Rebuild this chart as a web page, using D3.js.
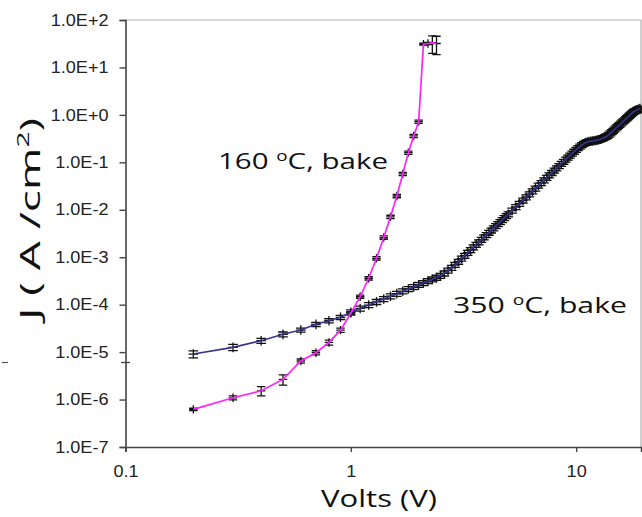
<!DOCTYPE html>
<html><head><meta charset="utf-8">
<script src="https://cdn.jsdelivr.net/npm/d3@7"></script>
<style>body{margin:0;background:#fff}svg{display:block}</style>
</head><body>
<svg id="c" width="642" height="517"></svg>
<script>
// ---- data ----
const xTickValues = [0.1, 1, 10];
const xTickLabels = ["0.1", "1", "10"];
const yTickValues = [1e-7, 1e-6, 1e-5, 1e-4, 1e-3, 1e-2, 1e-1, 1e0, 1e1, 1e2];
const yTickLabels = ["1.0E-7","1.0E-6","1.0E-5","1.0E-4","1.0E-3","1.0E-2","1.0E-1","1.0E+0","1.0E+1","1.0E+2"];

// 160 C bake (magenta)
const v160 = [0.2,0.3,0.4,0.5,0.6,0.7,0.8,0.9,1.0,1.1,1.2,1.3,1.4,1.5,1.6,1.7,1.8,1.9,2.0,2.1,2.2,2.3,2.4];
const j160 = [6.2e-7,1.09e-6,1.53e-6,2.66e-6,6.5e-6,9.7e-6,1.6e-5,2.9e-5,6.6e-5,1.47e-4,3.6e-4,9.5e-4,2.6e-3,7.1e-3,1.95e-2,5.7e-2,0.16,0.36,0.72,31,32,33,32];
const e160 = [0.06,0.1,0.22,0.24,0.1,0.1,0.12,0.1,0.08,0.08,0.08,0.08,0.08,0.08,0.08,0.08,0.08,0.08,0.08,0.05,0.05,0.4,0.42];

// 350 C bake (navy)
const v350 = [0.2,0.3,0.4,0.5,0.6,0.7,0.8,0.9,1.0,1.1,1.2,1.3,1.4,1.5,1.6,1.7,1.8,1.9,2.0,2.1,2.2,2.3,2.4,2.5,2.6,2.7,2.8,2.9,3.0,
  3.1,3.2,3.3,3.4,3.5,3.6,3.7,3.8,3.9,4.0,4.1,4.2,4.3,4.4,4.5,4.6,4.7,4.8,4.9,5.0,
  5.2,5.4,5.6,5.8,6.0,6.2,6.4,6.6,6.8,7.0,7.2,7.4,7.6,7.8,8.0,8.2,8.4,8.6,8.8,9.0,9.2,9.4,9.6,9.8,
  10.0,10.2,10.4,10.6,10.8,11.0,11.2,11.4,11.6,11.8,12.0,12.2,12.4,12.6,12.8,13.0,13.2,13.4,13.6,13.8,
  14.0,14.2,14.4,14.6,14.8,15.0,15.2,15.4,15.6,15.8,16.0,16.2,16.4,16.6,16.8,17.0,17.2,17.4,17.6,17.8,
  18.0,18.2,18.4,18.6,18.8,19.0,19.2];
const j350 = [9.1e-6,1.26e-5,1.74e-5,2.37e-5,2.92e-5,3.85e-5,4.59e-5,5.41e-5,6.92e-5,8.32e-5,9.82e-5,1.146e-4,1.321e-4,1.507e-4,1.706e-4,1.914e-4,2.138e-4,2.371e-4,2.618e-4,2.877e-4,3.14e-4,3.42e-4,3.72e-4,4.07e-4,4.57e-4,5.25e-4,6.03e-4,6.92e-4,8.07e-4,
  9.38e-4,1.081e-3,1.242e-3,1.419e-3,1.618e-3,1.837e-3,2.075e-3,2.344e-3,2.63e-3,2.95e-3,3.30e-3,3.68e-3,4.09e-3,4.54e-3,5.02e-3,5.55e-3,6.11e-3,6.73e-3,7.38e-3,8.07e-3,
  9.64e-3,1.143e-2,1.346e-2,1.578e-2,1.841e-2,2.133e-2,2.46e-2,2.82e-2,3.24e-2,3.68e-2,4.19e-2,4.73e-2,5.35e-2,6.0e-2,6.73e-2,7.52e-2,8.38e-2,9.33e-2,0.1035,0.1146,0.1265,0.1393,0.1531,0.1683,
  0.184,0.200,0.216,0.232,0.246,0.258,0.268,0.275,0.279,0.282,0.285,0.289,0.294,0.300,0.307,0.316,0.327,0.339,0.351,0.363,
  0.387,0.412,0.438,0.466,0.494,0.524,0.556,0.589,0.622,0.659,0.697,0.735,0.776,0.818,0.863,0.908,0.957,1.007,1.059,1.112,
  1.167,1.197,1.230,1.262,1.297,1.330,1.365];
const e350first = [0.17,0.15,0.12,0.12,0.1,0.1,0.1,0.1];
const e350rest = 0.12;

const seriesNames = ["160 \u00BAC, bake", "350 \u00BAC, bake"];

// ---- chart ----
const svg = d3.select("#c");
const x = d3.scaleLog().domain([0.1, 19.4]).range([125.5, 641]);
const y = d3.scaleLog().domain([1e-7, 1e2]).range([447, 20]);

function stretch(sel, k) {
  sel.each(function(){ const w = this.getComputedTextLength(); d3.select(this).attr("textLength", w*k).attr("lengthAdjust","spacingAndGlyphs"); });
}

// frame (top & right)
svg.append("path").attr("d", `M${x(0.1)},${y(1e2)}H${x.range()[1]}V${y(1e-7)}`)
  .attr("fill","none").attr("stroke","#b0b0b0").attr("stroke-width",1.2);

// axes
const yAxis = d3.axisLeft(y).tickValues(yTickValues).tickFormat((d,i)=>yTickLabels[i]).tickSize(6).tickPadding(11);
const gy = svg.append("g").attr("transform",`translate(${x(0.1)},0)`).call(yAxis);
const xAxis = d3.axisBottom(x).tickValues(xTickValues).tickFormat((d,i)=>xTickLabels[i]).tickSize(5).tickPadding(10);
const gx = svg.append("g").attr("transform",`translate(0,${y(1e-7)})`).call(xAxis);
[gx, gy].forEach(g=>{
  g.select(".domain").attr("stroke","#444").attr("stroke-width",1.6);
  g.selectAll(".tick line").attr("stroke","#444").attr("stroke-width",1.4);
  g.selectAll(".tick text").attr("font-family","'Liberation Sans', Arial, sans-serif").attr("font-size",16).attr("fill","#222");
});
gx.selectAll(".tick text").attr("dy","0.95em");
stretch(gy.selectAll(".tick text"), 1.13);
stretch(gx.selectAll(".tick text"), 1.13);

// stray marks near the y axis (present in reference)
svg.append("line").attr("x1",121).attr("x2",130).attr("y1",362.5).attr("y2",362.5).attr("stroke","#444").attr("stroke-width",1.3);
svg.append("line").attr("x1",2).attr("x2",8).attr("y1",362.5).attr("y2",362.5).attr("stroke","#555").attr("stroke-width",1.2);

// series data
const d160 = v160.map((v,i)=>({v, j:j160[i], e:e160[i]}));
const d350 = v350.map((v,i)=>({v, j:j350[i], e:(i<e350first.length?e350first[i]:e350rest)}));

function drawMarks(data, h) {
  const g = svg.append("g").attr("stroke","#111").attr("stroke-width",1.3).attr("fill","none");
  data.forEach(d=>{
    const cx = x(d.v), y0 = y(d.j*(1-d.e)), y1 = y(d.j*(1+d.e)), cy = y(d.j);
    g.append("path").attr("d",`M${cx},${y0}V${y1}M${cx-h},${y0}H${cx+h}M${cx-h},${y1}H${cx+h}M${cx-h},${cy}H${cx+h}M${cx},${cy-h}V${cy+h}`);
  });
}
drawMarks(d350, 4.8);
drawMarks(d160, 4.2);

const line = d3.line().x(d=>x(d.v)).y(d=>y(d.j));
svg.append("path").datum(d350).attr("d",line).attr("fill","none").attr("stroke","#34348f").attr("stroke-width",1.6);
svg.append("path").datum(d160).attr("d",line).attr("fill","none").attr("stroke","#ff22ff").attr("stroke-width",1.7);

// annotations
function degLabel(xp, yp, txt, width) {
  const parts = txt.split("\u00BA");
  const t = svg.append("text").attr("x",xp).attr("y",yp).attr("font-family","'Open Sans', sans-serif").attr("font-size",22).attr("fill","#111");
  t.append("tspan").text(parts[0]);
  t.append("tspan").attr("font-size",14).attr("dy",-8).text("o");
  t.append("tspan").attr("dy",8).text("C" + parts[1].slice(1));
  t.attr("textLength", width).attr("lengthAdjust","spacingAndGlyphs");
}
degLabel(218, 169, seriesNames[0], 170);
degLabel(453, 313, seriesNames[1], 174);

// axis titles
svg.append("text").attr("x",321).attr("y",507).attr("font-family","'Open Sans', sans-serif").attr("font-size",24).attr("fill","#111")
  .attr("textLength",116).attr("lengthAdjust","spacingAndGlyphs").text("Volts (V)");
const yt = svg.append("text").attr("transform","translate(40,320) rotate(-90)").attr("font-family","'Open Sans', sans-serif").attr("font-size",28).attr("fill","#111");
yt.append("tspan").text("J ( A /cm");
yt.append("tspan").attr("font-size",17).attr("dy",-11).text("2");
yt.append("tspan").attr("dy",11).text(")");
yt.attr("textLength",202).attr("lengthAdjust","spacingAndGlyphs");
</script>
</body></html>
